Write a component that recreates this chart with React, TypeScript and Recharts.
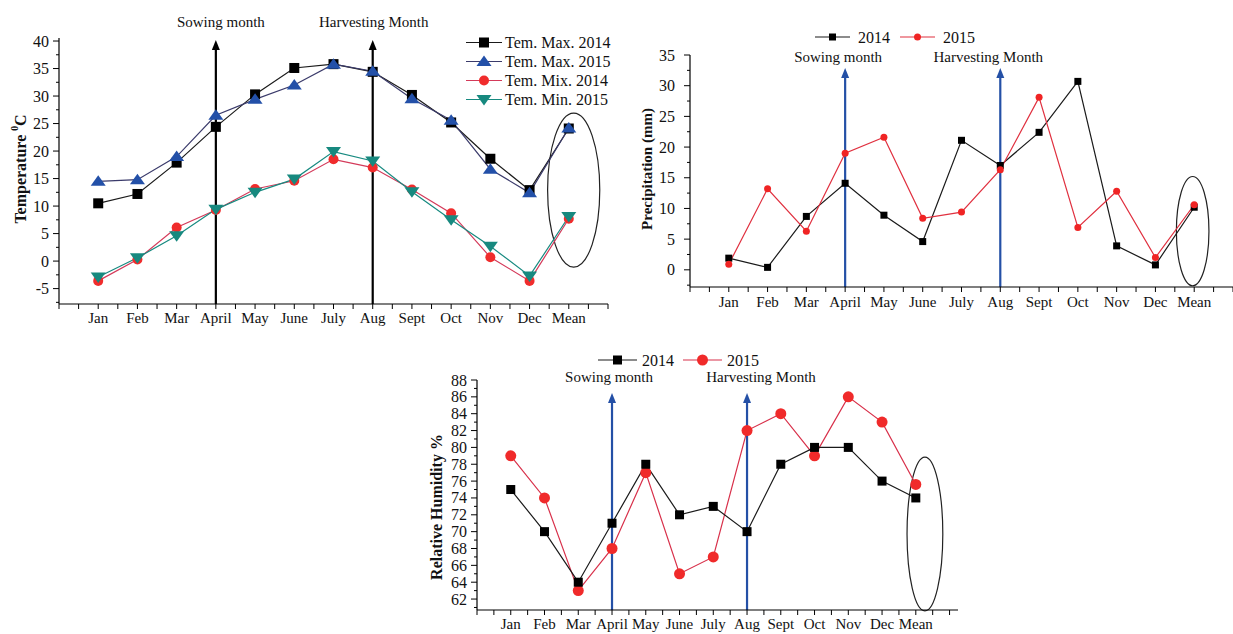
import React from "react";
import { LineChart, Line, XAxis, YAxis, Legend, ReferenceLine, ReferenceArea } from "recharts";

const FONT = '"Liberation Serif", "Times New Roman", serif';

const months = ["Jan", "Feb", "Mar", "April", "May", "June", "July", "Aug", "Sept", "Oct", "Nov", "Dec", "Mean"];

// temperature, deg C
const temMax2014 = [10.5, 12.2, 17.9, 24.4, 30.3, 35.1, 35.8, 34.4, 30.2, 25.2, 18.6, 12.9, 24.1];
const temMax2015 = [14.5, 14.8, 19.0, 26.5, 29.4, 32.0, 35.8, 34.5, 29.5, 25.6, 16.7, 12.4, 24.2];
const temMix2014 = [-3.6, 0.3, 6.1, 9.3, 13.1, 14.6, 18.5, 17.0, 13.0, 8.7, 0.7, -3.6, 7.7];
const temMin2015 = [-2.9, 0.6, 4.6, 9.4, 12.5, 14.9, 19.9, 18.2, 12.6, 7.5, 2.7, -2.7, 8.1];

// precipitation, mm
const rain2014 = [1.9, 0.4, 8.7, 14.1, 8.9, 4.6, 21.1, 17.0, 22.4, 30.7, 3.9, 0.8, 10.2];
const rain2015 = [0.9, 13.2, 6.3, 19.0, 21.6, 8.4, 9.4, 16.3, 28.1, 6.9, 12.8, 2.0, 10.6];

// relative humidity, %
const rh2014 = [75, 70, 64, 71, 78, 72, 73, 70, 78, 80, 80, 76, 74];
const rh2015 = [79, 74, 63, 68, 77, 65, 67, 82, 84, 79, 86, 83, 75.6];

const monthTicks = Array.from({ length: 29 }, (_, i) => i / 2);
const tempTicks = [-7.5, -5, -2.5, 0, 2.5, 5, 7.5, 10, 12.5, 15, 17.5, 20, 22.5, 25, 27.5, 30, 32.5, 35, 37.5, 40];
const rainTicks = [-2.5, 0, 2.5, 5, 7.5, 10, 12.5, 15, 17.5, 20, 22.5, 25, 27.5, 30, 32.5, 35];
const rhTicks = [61, 62, 63, 64, 65, 66, 67, 68, 69, 70, 71, 72, 73, 74, 75, 76, 77, 78, 79, 80, 81, 82, 83, 84, 85, 86, 87, 88];

const tempData = months.map((m, i) => ({
  x: i + 1,
  month: m,
  max14: temMax2014[i],
  max15: temMax2015[i],
  mix14: temMix2014[i],
  min15: temMin2015[i],
}));
const rainData = months.map((m, i) => ({ x: i + 1, month: m, y14: rain2014[i], y15: rain2015[i] }));
const rhData = months.map((m, i) => ({ x: i + 1, month: m, y14: rh2014[i], y15: rh2015[i] }));

const tempSeries = [
  { key: "max14", name: "Tem. Max. 2014", stroke: "#1a1a1a", fill: "#000", shape: "square", size: 10 },
  { key: "max15", name: "Tem. Max. 2015", stroke: "#3b3b6b", fill: "#2350a8", shape: "up", size: 15 },
  { key: "mix14", name: "Tem. Mix. 2014", stroke: "#d43a5a", fill: "#f02c2c", shape: "circle", size: 10 },
  { key: "min15", name: "Tem. Min. 2015", stroke: "#178a80", fill: "#17897f", shape: "down", size: 15 },
];
const rainSeries = [
  { key: "y14", name: "2014", stroke: "#1a1a1a", fill: "#000", shape: "square", size: 7 },
  { key: "y15", name: "2015", stroke: "#e0303f", fill: "#f02424", shape: "circle", size: 7 },
];
const rhSeries = [
  { key: "y15", name: "2015", stroke: "#d8304a", fill: "#f02a2a", shape: "circle", size: 11 },
  { key: "y14", name: "2014", stroke: "#1a1a1a", fill: "#000", shape: "square", size: 9 },
];

function Marker({ cx, cy, shape, size, fill }: any) {
  if (cx == null || cy == null) return null;
  const h = size / 2;
  if (shape === "square") return <rect x={cx - h} y={cy - h} width={size} height={size} fill={fill} />;
  if (shape === "circle") return <circle cx={cx} cy={cy} r={h} fill={fill} />;
  if (shape === "up")
    return <polygon points={`${cx},${cy - h * 0.8} ${cx - h},${cy + h * 0.6} ${cx + h},${cy + h * 0.6}`} fill={fill} />;
  return <polygon points={`${cx},${cy + h * 0.8} ${cx - h},${cy - h * 0.6} ${cx + h},${cy - h * 0.6}`} fill={fill} />;
}

const XTick = (props: any) => {
  const { x, y, payload, fontSize, dy } = props;
  const v = payload.value;
  const label = Number.isInteger(v) ? months[v - 1] : undefined;
  return (
    <g>
      <line x1={x} x2={x} y1={y} y2={y + 5} stroke="#000" strokeWidth={1} />
      {label && (
        <text x={x} y={y + dy} textAnchor="middle" dominantBaseline="central" fontSize={fontSize} fontFamily={FONT} fill="#111">
          {label}
        </text>
      )}
    </g>
  );
};

const YTick = (props: any) => {
  const { x, y, payload, step, gap, fontSize } = props;
  const v = payload.value;
  const major = Math.abs(v / step - Math.round(v / step)) < 1e-6;
  return (
    <g>
      <line x1={x} x2={x - (major ? 6 : 3)} y1={y} y2={y} stroke="#000" strokeWidth={1} />
      {major && (
        <text x={x - gap} y={y} textAnchor="end" dominantBaseline="central" fontSize={fontSize} fontFamily={FONT} fill="#111">
          {v}
        </text>
      )}
    </g>
  );
};

const arrowShape = (color: string, text: string, dx: number, dy: number) => (p: any) => {
  const x = p.x1;
  const top = Math.min(p.y1, p.y2);
  const bottom = Math.max(p.y1, p.y2);
  return (
    <g>
      <line x1={x} x2={x} y1={bottom} y2={top + 8} stroke={color} strokeWidth={2.2} />
      <polygon points={`${x},${top} ${x - 4},${top + 10} ${x + 4},${top + 10}`} fill={color} />
      <text x={x + dx} y={top + dy} textAnchor="middle" fontSize={15} fontFamily={FONT} fill="#111">
        {text}
      </text>
    </g>
  );
};

const ellipseShape = (p: any) => (
  <ellipse
    cx={p.x + p.width / 2}
    cy={p.y + p.height / 2}
    rx={Math.abs(p.width) / 2}
    ry={Math.abs(p.height) / 2}
    fill="none"
    stroke="#222"
    strokeWidth={1.2}
  />
);

const yLabel = (text: string, cx: number, fontSize: number, shiftY: number, sup?: boolean) => ({
  content: (p: any) => {
    const vb = p.viewBox || {};
    const cy = (vb.y ?? 0) + (vb.height ?? 0) / 2 + shiftY;
    return (
      <text
        x={cx}
        y={cy}
        transform={`rotate(-90 ${cx} ${cy})`}
        textAnchor="middle"
        dominantBaseline="central"
        fontWeight="bold"
        fontSize={fontSize}
        fontFamily={FONT}
        fill="#111"
      >
        {text}
        {sup && (
          <>
            <tspan dy={-6} fontSize={fontSize * 0.6}>0</tspan>
            <tspan dy={6}>C</tspan>
          </>
        )}
      </text>
    );
  },
});

function LegendBox({ items, vertical, lineLen, step, gap, fontSize }: any) {
  const w = vertical ? lineLen + 130 : items.length * step;
  const h = vertical ? items.length * step : 20;
  return (
    <svg width={w} height={h} style={{ display: "block", overflow: "visible" }}>
      {items.map((it: any, i: number) => {
        const x0 = vertical ? 0 : i * step;
        const cy = vertical ? i * step + step / 2 : h / 2;
        return (
          <g key={it.name}>
            <line x1={x0} x2={x0 + lineLen} y1={cy} y2={cy} stroke={it.stroke} strokeWidth={1.2} />
            <Marker cx={x0 + lineLen / 2} cy={cy} shape={it.shape} size={it.size} fill={it.fill} />
            <text x={x0 + lineLen + gap} y={cy} dominantBaseline="central" fontSize={fontSize} fontFamily={FONT} fill="#111">
              {it.name}
            </text>
          </g>
        );
      })}
    </svg>
  );
}

function seriesLines(series: any[]) {
  return series.map((s) => (
    <Line
      key={s.key}
      type="linear"
      dataKey={s.key}
      name={s.name}
      stroke={s.stroke}
      strokeWidth={1.2}
      isAnimationActive={false}
      activeDot={false}
      dot={(p: any) => <Marker key={`${s.key}-${p.index}`} cx={p.cx} cy={p.cy} shape={s.shape} size={s.size} fill={s.fill} />}
    />
  ));
}

function TemperatureChart() {
  return (
    <LineChart width={620} height={330} data={tempData} margin={{ top: 38, right: 12, bottom: 0, left: 0 }}>
      <XAxis
        dataKey="x"
        type="number"
        domain={[0, 14]}
        allowDataOverflow
        ticks={monthTicks}
        interval={0}
        height={26}
        tickSize={0}
        tickMargin={0}
        tickLine={false}
        axisLine={{ stroke: "#000", strokeWidth: 1.2 }}
        tick={(p: any) => <XTick {...p} fontSize={15} dy={14} />}
      />
      <YAxis
        type="number"
        domain={[-7.8, 40.55]}
        allowDataOverflow
        ticks={tempTicks}
        interval={0}
        width={59}
        tickSize={0}
        tickMargin={0}
        tickLine={false}
        axisLine={{ stroke: "#000", strokeWidth: 1.2 }}
        tick={(p: any) => <YTick {...p} step={5} gap={10} fontSize={16} />}
        label={yLabel("Temperature ", 20, 16, -2, true)}
      />
      <ReferenceLine segment={[{ x: 4, y: -7.8 }, { x: 4, y: 40.2 }]} shape={arrowShape("#000", "Sowing month", 5, -13)} />
      <ReferenceLine segment={[{ x: 8, y: -7.8 }, { x: 8, y: 40.2 }]} shape={arrowShape("#000", "Harvesting Month", 1, -13)} />
      <ReferenceArea x1={12.46} x2={13.79} y1={-1.1} y2={26.9} ifOverflow="visible" shape={ellipseShape} />
      {seriesLines(tempSeries)}
      <Legend
        verticalAlign="middle"
        align="center"
        layout="horizontal"
        wrapperStyle={{ top: 33, left: 466, width: "auto" }}
        content={() => <LegendBox items={tempSeries} vertical lineLen={36} step={19} gap={3} fontSize={16} />}
      />
    </LineChart>
  );
}

function PrecipitationChart() {
  return (
    <LineChart width={613} height={313} data={rainData} margin={{ top: 55, right: 0, bottom: 0, left: 0 }}>
      <XAxis
        dataKey="x"
        type="number"
        domain={[0, 14]}
        allowDataOverflow
        ticks={monthTicks}
        interval={0}
        height={26}
        tickSize={0}
        tickMargin={0}
        tickLine={false}
        axisLine={{ stroke: "#000", strokeWidth: 1.2 }}
        tick={(p: any) => <XTick {...p} fontSize={15} dy={15} />}
      />
      <YAxis
        type="number"
        domain={[-2.8, 35]}
        allowDataOverflow
        ticks={rainTicks}
        interval={0}
        width={70}
        tickSize={0}
        tickMargin={0}
        tickLine={false}
        axisLine={{ stroke: "#000", strokeWidth: 1.2 }}
        tick={(p: any) => <YTick {...p} step={5} gap={15} fontSize={16} />}
        label={yLabel("Precipitation (mm)", 27, 15, -2)}
      />
      <ReferenceLine segment={[{ x: 4, y: -2.8 }, { x: 4, y: 32.9 }]} shape={arrowShape("#2450a6", "Sowing month", -7, -6)} />
      <ReferenceLine segment={[{ x: 8, y: -2.8 }, { x: 8, y: 32.9 }]} shape={arrowShape("#2450a6", "Harvesting Month", -12, -6)} />
      <ReferenceArea x1={12.54} x2={13.38} y1={-2.6} y2={15.2} ifOverflow="visible" shape={ellipseShape} />
      {seriesLines(rainSeries)}
      <Legend
        verticalAlign="middle"
        align="center"
        layout="horizontal"
        wrapperStyle={{ top: 27, left: 195, width: "auto" }}
        content={() => <LegendBox items={rainSeries} lineLen={35} step={85} gap={8} fontSize={16} />}
      />
    </LineChart>
  );
}

function HumidityChart() {
  return (
    <LineChart width={558} height={292} data={rhData} margin={{ top: 40, right: 0, bottom: 0, left: 0 }}>
      <XAxis
        dataKey="x"
        type="number"
        domain={[0, 14.25]}
        allowDataOverflow
        ticks={monthTicks}
        interval={0}
        height={22}
        tickSize={0}
        tickMargin={0}
        tickLine={false}
        axisLine={{ stroke: "#000", strokeWidth: 1.2 }}
        tick={(p: any) => <XTick {...p} fontSize={15} dy={14} />}
      />
      <YAxis
        type="number"
        domain={[60.7, 88]}
        allowDataOverflow
        ticks={rhTicks}
        interval={0}
        width={77}
        tickSize={0}
        tickMargin={0}
        tickLine={false}
        axisLine={{ stroke: "#000", strokeWidth: 1.2 }}
        tick={(p: any) => <YTick {...p} step={2} gap={10} fontSize={16} />}
        label={yLabel("Relative Humidity %", 36, 16, 12)}
      />
      <ReferenceLine segment={[{ x: 4, y: 60.7 }, { x: 4, y: 86.45 }]} shape={arrowShape("#2450a6", "Sowing month", -3, -11)} />
      <ReferenceLine segment={[{ x: 8, y: 60.7 }, { x: 8, y: 86.45 }]} shape={arrowShape("#2450a6", "Harvesting Month", 14, -11)} />
      <ReferenceArea x1={12.74} x2={13.8} y1={60.6} y2={78.85} ifOverflow="visible" shape={ellipseShape} />
      {seriesLines(rhSeries)}
      <Legend
        verticalAlign="middle"
        align="center"
        layout="horizontal"
        wrapperStyle={{ top: 10, left: 198, width: "auto" }}
        content={() => <LegendBox items={[rhSeries[1], rhSeries[0]]} lineLen={39} step={85} gap={5} fontSize={16} />}
      />
    </LineChart>
  );
}

export default function App() {
  return (
    <div
      style={{
        position: "absolute",
        left: 0,
        top: 0,
        width: 1233,
        height: 634,
        background: "#fff",
        overflow: "hidden",
        fontFamily: FONT,
      }}
    >
      <div style={{ position: "absolute", left: 0, top: 0 }}>
        <TemperatureChart />
      </div>
      <div style={{ position: "absolute", left: 620, top: 0 }}>
        <PrecipitationChart />
      </div>
      <div style={{ position: "absolute", left: 400, top: 340 }}>
        <HumidityChart />
      </div>
    </div>
  );
}
